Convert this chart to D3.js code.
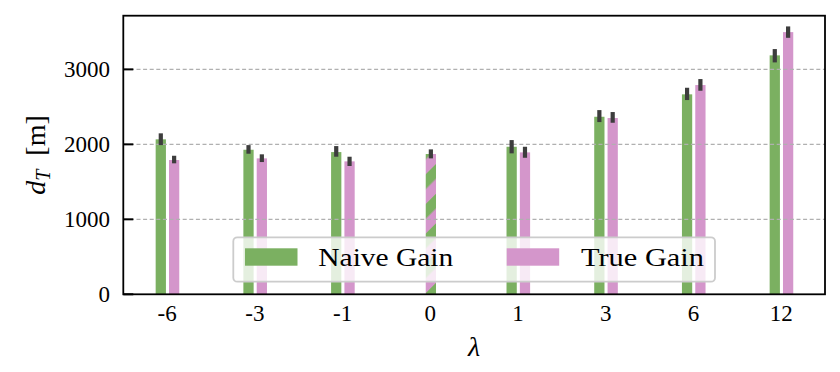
<!DOCTYPE html>
<html><head><meta charset="utf-8">
<script src="https://cdn.jsdelivr.net/npm/d3@7"></script>
<style>
html,body{margin:0;padding:0;background:#fff;}
svg{display:block;}
text{font-family:"Liberation Serif","Times New Roman",serif;fill:#000;}
</style></head>
<body>
<svg id="chart" width="840" height="372"></svg>
<script>
// ---- data ----
const categories = ["-6", "-3", "-1", "0", "1", "3", "6", "12"];
const naiveGain  = [2067, 1928, 1897, 1871, 1968, 2368, 2667, 3187];
const naiveLow   = [1990, 1875, 1835, 1813, 1880, 2297, 2591, 3093];
const naiveHigh  = [2147, 1990, 1977, 1933, 2057, 2457, 2755, 3271];
const trueGain   = [1791, 1813, 1773, 1871, 1893, 2351, 2791, 3497];
const trueLow    = [1747, 1764, 1711, 1813, 1821, 2288, 2715, 3421];
const trueHigh   = [1848, 1867, 1835, 1933, 1968, 2431, 2871, 3573];
const yTicks     = [0, 1000, 2000, 3000];
const seriesNames = ["Naive Gain", "True Gain"];

const colNaive = "#7bb061", colTrue = "#d496cb";

const svg = d3.select("#chart");
const m = {left: 123.3, right: 825, top: 15.7, bottom: 294.3};

const x = d3.scaleBand().domain(categories).range([m.left, m.right]).padding(0);
const y = d3.scaleLinear().domain([0, 3716]).range([m.bottom, m.top]);
const bw = x.bandwidth();

// hatch pattern for coincident bar
const defs = svg.append("defs");
const pat = defs.append("pattern").attr("id", "mix").attr("patternUnits", "userSpaceOnUse")
  .attr("width", 21).attr("height", 10).attr("patternTransform", "translate(0,6) rotate(45)");
pat.append("rect").attr("width", 21).attr("height", 10).attr("fill", colTrue);
pat.append("rect").attr("width", 10.5).attr("height", 10).attr("fill", colNaive);

const data = categories.map((c, i) => ({c, n: naiveGain[i], nl: naiveLow[i], nh: naiveHigh[i],
  t: trueGain[i], tl: trueLow[i], th: trueHigh[i]}));

const barW = 0.117 * bw;
const gBars = svg.append("g");
const bars = [];
data.forEach(d => {
  const x0 = x(d.c);
  if (d.n === d.t) {
    bars.push({x: x0 + 0.448 * bw, v: d.n, lo: d.nl, hi: d.nh, fill: "url(#mix)"});
  } else {
    bars.push({x: x0 + 0.369 * bw, v: d.n, lo: d.nl, hi: d.nh, fill: colNaive});
    bars.push({x: x0 + 0.521 * bw, v: d.t, lo: d.tl, hi: d.th, fill: colTrue});
  }
});
gBars.selectAll("rect").data(bars).join("rect")
  .attr("x", d => d.x).attr("width", barW)
  .attr("y", d => y(d.v)).attr("height", d => y(0) - y(d.v))
  .attr("fill", d => d.fill);

// grid (drawn above bars)
svg.append("g").selectAll("line").data(yTicks.filter(t => t > 0)).join("line")
  .attr("x1", m.left).attr("x2", m.right)
  .attr("y1", d => y(d)).attr("y2", d => y(d))
  .attr("stroke", "#b0b0b0").attr("stroke-width", 1.1).attr("stroke-dasharray", "4,2.6");

// error bars
svg.append("g").selectAll("line").data(bars).join("line")
  .attr("x1", d => d.x + barW / 2).attr("x2", d => d.x + barW / 2)
  .attr("y1", d => y(d.lo)).attr("y2", d => y(d.hi))
  .attr("stroke", "#3d3d3d").attr("stroke-width", 4.2);

// frame
svg.append("rect").attr("x", m.left).attr("y", m.top)
  .attr("width", m.right - m.left).attr("height", m.bottom - m.top)
  .attr("fill", "none").attr("stroke", "#000").attr("stroke-width", 1.8);

// y axis ticks (inward) + labels
const yAx = svg.append("g");
yAx.selectAll("line").data(yTicks).join("line")
  .attr("x1", m.left).attr("x2", m.left + 10)
  .attr("y1", d => y(d)).attr("y2", d => y(d))
  .attr("stroke", "#000").attr("stroke-width", 2);
yAx.selectAll("text").data(yTicks).join("text")
  .attr("x", 110).attr("y", d => y(d)).attr("dy", "0.34em")
  .attr("text-anchor", "end").attr("font-size", 23)
  .text(d => d);

// x tick labels
svg.append("g").selectAll("text").data(categories).join("text")
  .attr("x", d => x(d) + bw / 2).attr("y", 321)
  .attr("text-anchor", "middle").attr("font-size", 23)
  .text(d => d);

// axis labels
svg.append("text").attr("x", (m.left + m.right) / 2).attr("y", 356)
  .attr("text-anchor", "middle").attr("font-size", 28).attr("font-style", "italic")
  .text("λ");
const yl = svg.append("text")
  .attr("transform", `translate(45,${(m.top + m.bottom) / 2}) rotate(-90)`)
  .attr("text-anchor", "middle").attr("font-size", 28);
yl.append("tspan").attr("font-style", "italic").text("d");
yl.append("tspan").attr("font-style", "italic").attr("font-size", 20).attr("dy", 5).text("T");
yl.append("tspan").attr("dy", -5).text("\u2002[m]");

// legend
const lg = svg.append("g");
lg.append("rect").attr("x", 233.3).attr("y", 237.3).attr("width", 481.7).attr("height", 44.4)
  .attr("rx", 4).attr("fill", "#fff").attr("fill-opacity", 0.8)
  .attr("stroke", "#cccccc").attr("stroke-width", 1.8);
const legItems = [
  {name: seriesNames[0], col: colNaive, hx: 245, tx: 318.3, tl: 135},
  {name: seriesNames[1], col: colTrue, hx: 506.7, tx: 581, tl: 123}
];
legItems.forEach(it => {
  lg.append("rect").attr("x", it.hx).attr("y", 248.3).attr("width", 52.5).attr("height", 17.4).attr("fill", it.col);
  lg.append("text").attr("x", it.tx).attr("y", 266).attr("font-size", 26)
    .attr("textLength", it.tl).attr("lengthAdjust", "spacingAndGlyphs").text(it.name);
});
</script>
</body></html>
